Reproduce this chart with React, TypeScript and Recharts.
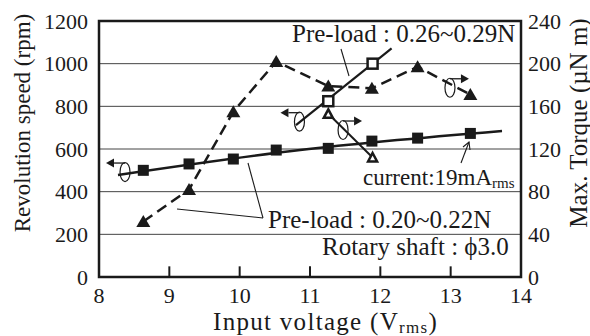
import React from 'react';
import { ComposedChart, Line, XAxis, YAxis, CartesianGrid, ReferenceArea, ReferenceLine, ReferenceDot } from 'recharts';

// Input voltage (Vrms)
const voltFilled = [8.63, 9.28, 9.91, 10.52, 11.26, 11.88, 12.53, 13.28];
// Revolution speed (rpm), pre-load 0.20~0.22N
const speedFilled = [500, 530, 553, 595, 603, 637, 651, 673];
// Max torque (uN m), pre-load 0.20~0.22N
const torqueFilled = [52, 82, 155, 202, 179, 177, 197, 171];

const voltOpen = [11.26, 11.89];
// pre-load 0.26~0.29N
const speedOpen = [824, 1000];
const torqueOpen = [153, 112];

// trend lines
const fitFilledX = [8.27, 10.86, 13.73];
const fitFilledY = [478, 595, 684];
const fitOpenX = [10.8, 12.16];
const fitOpenY = [712, 1072];

const xTicks = [8, 9, 10, 11, 12, 13, 14];
const innerTicks = [9, 10, 11, 12, 13];
const speedTicks = [0, 200, 400, 600, 800, 1000, 1200];
const torqueTicks = [0, 40, 80, 120, 160, 200, 240];

// rotation-direction icons: [volt, rpm, direction]
const iconX = [8.37, 10.85, 11.47, 12.99];
const iconY = [492, 728, 689, 887];
const iconDir = [-1, -1, 1, 1];

const zip = (xs: number[], ys: number[]) => xs.map((x, i) => ({ x, y: ys[i] }));

const dFilledSpeed = zip(voltFilled, speedFilled);
const dFilledTorque = zip(voltFilled, torqueFilled);
const dOpenSpeed = zip(voltOpen, speedOpen);
const dOpenTorque = zip(voltOpen, torqueOpen);
const dFitFilled = zip(fitFilledX, fitFilledY);
const dFitOpen = zip(fitOpenX, fitOpenY);

const FONT = "'Liberation Serif', 'Times New Roman', serif";
const INK = '#1a1a1a';

const FilledSquare = (p: any) => {
  const { cx, cy, index } = p;
  if (cx == null || cy == null) return <g key={`fs${index}`} />;
  return <rect key={`fs${index}`} x={cx - 5.5} y={cy - 5.5} width={11} height={11} fill={INK} />;
};
const OpenSquare = (p: any) => {
  const { cx, cy, index } = p;
  if (cx == null || cy == null) return <g key={`os${index}`} />;
  return <rect key={`os${index}`} x={cx - 5} y={cy - 5} width={10} height={10} fill="#fff" stroke={INK} strokeWidth={2.5} />;
};
const FilledTri = (p: any) => {
  const { cx, cy, index } = p;
  if (cx == null || cy == null) return <g key={`ft${index}`} />;
  return <polygon key={`ft${index}`} points={`${cx},${cy - 6.5} ${cx + 7},${cy + 5.5} ${cx - 7},${cy + 5.5}`} fill={INK} />;
};
const OpenTri = (p: any) => {
  const { cx, cy, index } = p;
  if (cx == null || cy == null) return <g key={`ot${index}`} />;
  return <polygon key={`ot${index}`} points={`${cx},${cy - 4.5} ${cx + 4.5},${cy + 4} ${cx - 4.5},${cy + 4}`} fill="#fff" stroke={INK} strokeWidth={2.5} strokeLinejoin="miter" />;
};

const makeIcon = (dir: number) => (p: any) => {
  const { cx, cy } = p;
  if (cx == null || cy == null) return <g />;
  const top = cy - 9;
  const tip = cx + dir * 19;
  const base = tip - dir * 8;
  return (
    <g>
      <ellipse cx={cx} cy={cy} rx={5} ry={9.5} fill="none" stroke={INK} strokeWidth={1.2} />
      <line x1={cx} y1={top} x2={base} y2={top} stroke={INK} strokeWidth={1.3} />
      <polygon points={`${tip},${top} ${base},${top - 4.5} ${base},${top + 4.5}`} fill={INK} />
    </g>
  );
};

const tickStyle = { fontSize: 22, fill: INK, fontFamily: FONT };

export default function App() {
  return (
    <div style={{ position: 'absolute', left: 0, top: 0, width: 590, height: 336, background: '#fff', fontFamily: FONT }}>
      <ComposedChart width={590} height={336} margin={{ top: 21, right: 0, bottom: 29, left: 0 }} style={{ fontFamily: FONT }}>
        <CartesianGrid horizontal vertical={false} stroke="#444" strokeWidth={1} />
        <XAxis
          type="number"
          dataKey="x"
          domain={[8, 14]}
          ticks={xTicks}
          allowDataOverflow
          axisLine={false}
          tickLine={false}
          tickSize={6}
          tickMargin={4}
          height={30}
          tick={tickStyle}
        />
        <YAxis
          type="number"
          dataKey="y"
          domain={[0, 1200]}
          ticks={speedTicks}
          width={99}
          axisLine={false}
          tickLine={false}
          tickSize={6}
          tickMargin={5}
          tick={tickStyle}
        />
        <YAxis
          yAxisId="right"
          orientation="right"
          type="number"
          dataKey="y"
          domain={[0, 240]}
          ticks={torqueTicks}
          width={69}
          axisLine={false}
          tickLine={false}
          tickSize={6}
          tickMargin={1}
          tick={tickStyle}
        />
        {innerTicks.map((t) => (
          <ReferenceLine key={`it${t}`} segment={[{ x: t, y: 0 }, { x: t, y: 50 }]} stroke={INK} strokeWidth={2} />
        ))}
        <Line data={dFitFilled} dataKey="y" type="monotone" stroke={INK} strokeWidth={2.5} dot={false} isAnimationActive={false} legendType="none" />
        <Line data={dFilledSpeed} dataKey="y" stroke="none" strokeWidth={0} dot={FilledSquare} activeDot={false} isAnimationActive={false} legendType="none" />
        <Line data={dFitOpen} dataKey="y" type="linear" stroke={INK} strokeWidth={2.2} dot={false} isAnimationActive={false} legendType="none" />
        <Line yAxisId="right" data={dFilledTorque} dataKey="y" type="linear" stroke={INK} strokeWidth={2.5} strokeDasharray="11 6" dot={FilledTri} activeDot={false} isAnimationActive={false} legendType="none" />
        <Line yAxisId="right" data={dOpenTorque} dataKey="y" type="linear" stroke={INK} strokeWidth={2} dot={OpenTri} activeDot={false} isAnimationActive={false} legendType="none" />
        <Line data={dOpenSpeed} dataKey="y" stroke="none" strokeWidth={0} dot={OpenSquare} activeDot={false} isAnimationActive={false} legendType="none" />
        {iconX.map((x, i) => (
          <ReferenceDot key={`ic${i}`} x={x} y={iconY[i]} r={0} shape={makeIcon(iconDir[i])} />
        ))}
        <ReferenceArea x1={8} x2={14} y1={0} y2={1200} fill="none" fillOpacity={0} stroke={INK} strokeWidth={2.5} />
      </ComposedChart>
      <svg width={590} height={336} style={{ position: 'absolute', left: 0, top: 0, pointerEvents: 'none', fontFamily: FONT }} fill={INK}>
        <text x={22} y={123} fontSize={23} textAnchor="middle" dominantBaseline="central" transform="rotate(-90 22 123)">Revolution speed (rpm)</text>
        <text x={578} y={123} fontSize={25} textAnchor="middle" dominantBaseline="central" transform="rotate(-90 578 123)">Max. Torque (µN m)</text>
        <text x={213} y={330} fontSize={25} letterSpacing={1.3}>
          Input voltage (V<tspan fontSize={17} dy={3}>rms</tspan><tspan dy={-3}>)</tspan>
        </text>
        <text x={292} y={42} fontSize={25}>Pre-load : 0.26~0.29N</text>
        <line x1={341} y1={49} x2={349} y2={76} stroke={INK} strokeWidth={1.1} />
        <text x={268} y={228} fontSize={25}>Pre-load : 0.20~0.22N</text>
        <line x1={263} y1={218} x2={248} y2={163} stroke={INK} strokeWidth={1.1} />
        <line x1={263} y1={218} x2={177} y2={209} stroke={INK} strokeWidth={1.1} />
        <text x={363} y={185} fontSize={23}>
          current:19mA<tspan fontSize={15} dy={3}>rms</tspan>
        </text>
        <line x1={461} y1={163} x2={469} y2={142} stroke={INK} strokeWidth={1.1} />
        <polyline points="463,147 469,142 470,150" fill="none" stroke={INK} strokeWidth={1.1} />
        <text x={322} y={255} fontSize={25}>Rotary shaft : ϕ3.0</text>
      </svg>
    </div>
  );
}
